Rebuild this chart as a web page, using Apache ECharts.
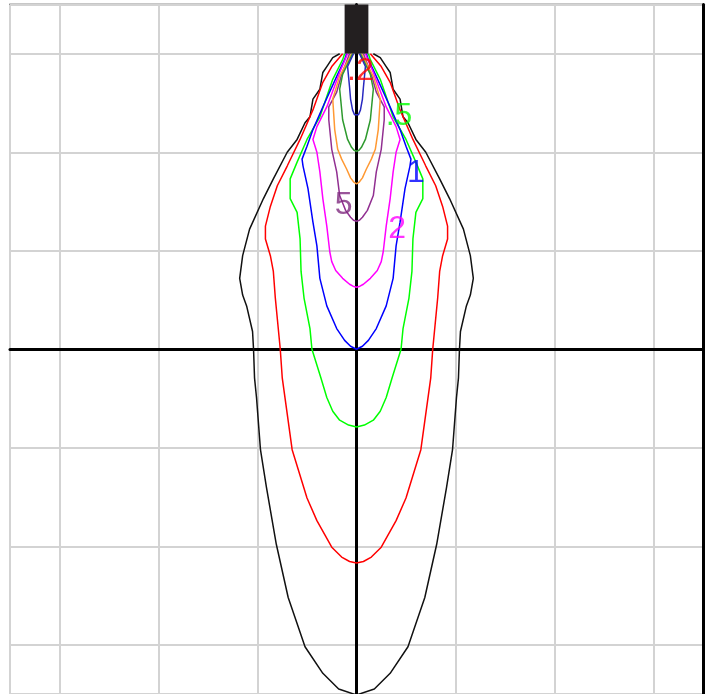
<!DOCTYPE html>
<html>
<head>
<meta charset="utf-8">
<script src="https://cdn.jsdelivr.net/npm/echarts@6/dist/echarts.min.js"></script>
<style>
  html, body { margin: 0; padding: 0; background: #fff; }
  #chart { width: 711px; height: 694px; }
</style>
</head>
<body>
<div id="chart"></div>
<script>
// contour profiles: [y, half width], from the source (top) down to the axis
const lvl01 = [[3.00,0.17],[2.96,0.24],[2.87,0.30],[2.81,0.34],[2.64,0.37],[2.54,0.44],[2.36,0.47],[2.30,0.52],[2.13,0.60],[2.00,0.70],[1.73,0.84],[1.53,0.94],[1.22,1.08],[0.95,1.15],[0.72,1.18],[0.55,1.15],[0.44,1.11],[0.18,1.05],[0,1.04],[-0.29,1.03],[-0.49,1.01],[-1.02,0.97],[-1.40,0.91],[-1.98,0.81],[-2.52,0.69],[-3.02,0.52],[-3.29,0.34],[-3.45,0.18],[-3.51,0]];
const lvl02 = [[3.00,0.14],[2.87,0.25],[2.71,0.34],[2.43,0.44],[2.13,0.57],[1.86,0.70],[1.66,0.80],[1.45,0.87],[1.25,0.92],[1.12,0.92],[0.95,0.87],[0.79,0.84],[0.52,0.82],[0,0.77],[-0.29,0.75],[-1.02,0.65],[-1.51,0.50],[-1.74,0.40],[-2.01,0.25],[-2.11,0.15],[-2.155,0.07],[-2.17,0]];
const lvl05 = [[3.00,0.12],[2.94,0.14],[2.74,0.24],[2.36,0.37],[2.13,0.50],[1.90,0.60],[1.73,0.67],[1.53,0.67],[1.39,0.60],[1.12,0.57],[0.79,0.56],[0.52,0.53],[0.21,0.47],[0,0.45],[-0.29,0.36],[-0.49,0.30],[-0.63,0.24],[-0.72,0.17],[-0.77,0.08],[-0.79,0]];
const lvl1 = [[3.00,0.10],[2.94,0.12],[2.77,0.20],[2.46,0.34],[2.23,0.44],[2.06,0.50],[1.93,0.55],[1.86,0.54],[1.63,0.49],[1.29,0.44],[1.05,0.40],[0.72,0.37],[0.44,0.30],[0.21,0.20],[0.09,0.12],[0.03,0.06],[0,0]];
const lvl2 = [[3.00,0.09],[2.81,0.17],[2.46,0.30],[2.26,0.40],[2.13,0.44],[2.00,0.40],[1.80,0.37],[1.53,0.34],[1.25,0.30],[0.99,0.27],[0.89,0.25],[0.80,0.21],[0.72,0.14],[0.66,0.07],[0.64,0.035],[0.63,0]];
const lvl5 = [[3.00,0.07],[2.79,0.15],[2.61,0.20],[2.46,0.28],[2.33,0.28],[2.03,0.25],[1.80,0.20],[1.56,0.17],[1.41,0.11],[1.34,0.06],[1.31,0.03],[1.30,0]];
const lvl10 = [[3.00,0.05],[2.77,0.17],[2.54,0.24],[2.23,0.22],[2.03,0.19],[1.93,0.15],[1.83,0.10],[1.74,0.06],[1.70,0.03],[1.68,0]];
const lvl20 = [[3.00,0.04],[2.79,0.14],[2.64,0.17],[2.54,0.16],[2.33,0.14],[2.13,0.09],[2.05,0.05],[2.02,0.025],[2.01,0]];
const lvl50 = [[3.00,0.03],[2.87,0.09],[2.66,0.07],[2.54,0.06],[2.43,0.04],[2.38,0.02],[2.36,0]];

const levels = [lvl01, lvl02, lvl05, lvl1, lvl2, lvl5, lvl10, lvl20, lvl50];
const levelColors = ["#111111", "#ff0000", "#00ff00", "#0000ff", "#ff00ff", "#912f91", "#ff9933", "#2e9a2e", "#2828c0"];

const labelTexts = [".2", ".5", "1", "2", "5"];
const labelPos = [[0.04, 2.82], [0.43, 2.37], [0.60, 1.79], [0.41, 1.22], [-0.13, 1.46]];
const labelColors = ["#ff0000", "#00ff00", "#0000ff", "#ff00ff", "#7f2a7f"];

const sourceBox = [[-0.12, 3.5], [0.12, 3.0]];

// left half going down, then right half going back up
function mirror(profile) {
  let left = profile.map((p) => [-p[1], p[0]]);
  let right = profile.slice(0, -1).reverse().map((p) => [p[1], p[0]]);
  return left.concat(right);
}

let myChart = echarts.init(document.getElementById("chart"));

let series = levels.map((lv, i) => {
  return {
    type: "line",
    data: mirror(lv),
    symbol: "none",
    silent: true,
    lineStyle: { color: levelColors[i], width: 1.5 },
    z: 3,
  };
});

// the black source block at the top
series[0].markArea = {
  silent: true,
  itemStyle: { color: "#231f20", opacity: 1 },
  data: [[{ coord: sourceBox[0] }, { coord: sourceBox[1] }]],
};

series.push({
  type: "scatter",
  symbolSize: 0,
  silent: true,
  z: 5,
  data: labelPos.map((p, i) => ({
    value: p,
    label: {
      show: true,
      position: "inside",
      formatter: labelTexts[i],
      color: labelColors[i],
      fontSize: 32,
      fontFamily: "Liberation Sans, Arial, sans-serif",
    },
  })),
});

let option = {
  animation: false,
  backgroundColor: "#fff",
  grid: {
    left: 10,
    top: 4.5,
    width: 693,
    height: 693,
    show: true,
    borderColor: "#222",
    borderWidth: 1.5,
  },
  xAxis: {
    type: "value",
    min: -3.5,
    max: 3.5,
    splitNumber: 7,
    axisLine: { onZero: true, lineStyle: { color: "#000", width: 3 } },
    axisTick: { show: false },
    axisLabel: { show: false },
    splitLine: { lineStyle: { color: "#d3d3d3", width: 2 } },
  },
  yAxis: [
    {
      type: "value",
      min: -3.5,
      max: 3.5,
      splitNumber: 7,
      axisLine: { onZero: true, lineStyle: { color: "#000", width: 3 } },
      axisTick: { show: false },
      axisLabel: { show: false },
      splitLine: { lineStyle: { color: "#d3d3d3", width: 2 } },
    },
    {
      type: "value",
      position: "right",
      min: -3.5,
      max: 3.5,
      axisLine: { show: true, onZero: false, lineStyle: { color: "#000", width: 3 } },
      axisTick: { show: false },
      axisLabel: { show: false },
      splitLine: { show: false },
    },
  ],
  series: series,
};

myChart.setOption(option);
</script>
</body>
</html>
